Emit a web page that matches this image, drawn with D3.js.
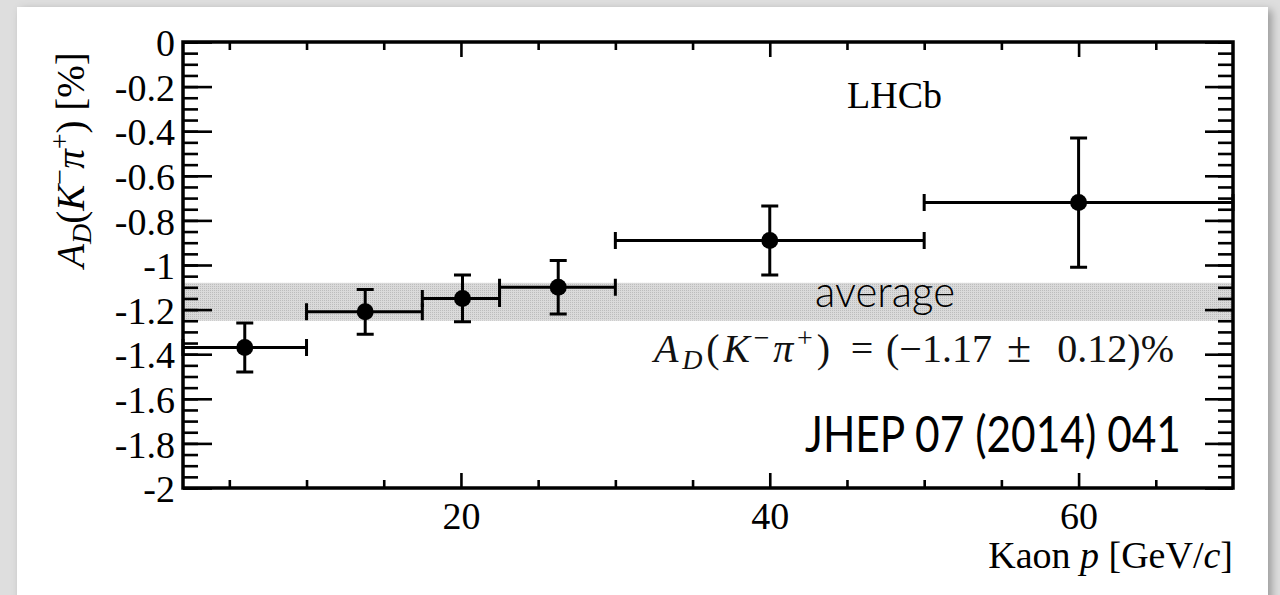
<!DOCTYPE html>
<html>
<head>
<meta charset="utf-8">
<script src="https://cdn.jsdelivr.net/npm/d3@7"></script>
<style>
  html, body { margin: 0; padding: 0; background: #dedede; }
  svg { display: block; }
  .tick line { stroke: #000; stroke-width: 2.6; }
  .tick text { font-family: "Liberation Serif", "Times New Roman", serif; font-size: 38px; fill: #000; }
</style>
</head>
<body>
<div id="chart"></div>
<script>
// kaon momentum bins [GeV/c]
const binLow = [2, 10, 17.5, 22.5, 30, 50]
const binHigh = [10, 17.5, 22.5, 30, 50, 70]
const pMean = [6, 13.8, 20.1, 26.3, 40, 60]
// raw asymmetry [%]
const asym = [-1.37, -1.21, -1.15, -1.10, -0.89, -0.72]
const asymErr = [0.11, 0.10, 0.105, 0.12, 0.155, 0.29]
// average band drawn on the plot
const avgBand = [-1.25, -1.08]

const yMajor = [0, -0.2, -0.4, -0.6, -0.8, -1, -1.2, -1.4, -1.6, -1.8, -2]
const yLabels = ['0', '-0.2', '-0.4', '-0.6', '-0.8', '-1', '-1.2', '-1.4', '-1.6', '-1.8', '-2']
const yMinor = d3.range(0, 41).map(i => -i * 0.05)
const xMajor = [20, 40, 60]
const xMinor = [5, 10, 15, 25, 30, 35, 45, 50, 55, 65]

const W = 1280, H = 595
const plot = { left: 183, top: 42, right: 1233, bottom: 488 }

const svg = d3.select('#chart').append('svg')
  .attr('width', W)
  .attr('height', H)

let defs = svg.append('defs')
let shadow = defs.append('filter').attr('id', 'shadow')
  .attr('x', '-5%').attr('y', '-5%').attr('width', '110%').attr('height', '110%')
shadow.append('feDropShadow')
  .attr('dx', 4).attr('dy', 3).attr('stdDeviation', 4)
  .attr('flood-color', '#000').attr('flood-opacity', 0.3)

let pat = defs.append('pattern').attr('id', 'dots')
  .attr('width', 2).attr('height', 2)
  .attr('patternUnits', 'userSpaceOnUse')
pat.append('rect').attr('width', 2).attr('height', 2).attr('fill', '#dadada')
pat.append('rect').attr('width', 1).attr('height', 1).attr('fill', '#bcbcbc')

// page + white panel
svg.append('rect').attr('width', W).attr('height', H).attr('fill', '#dedede')
svg.append('rect')
  .attr('x', 17).attr('y', 7)
  .attr('width', 1251).attr('height', 640)
  .attr('fill', '#fff')
  .attr('filter', 'url(#shadow)')

const x = d3.scaleLinear().domain([2, 70]).range([plot.left, plot.right])
const y = d3.scaleLinear().domain([-2, 0]).range([plot.bottom, plot.top])

let g = svg.append('g')

// average band
g.append('rect')
  .attr('x', x(2))
  .attr('y', y(avgBand[1]))
  .attr('width', x(70) - x(2))
  .attr('height', y(avgBand[0]) - y(avgBand[1]))
  .attr('fill', 'url(#dots)')

// texts inside the frame
g.append('text')
  .attr('x', 942).attr('y', 108)
  .attr('text-anchor', 'end')
  .style('font-family', '"Liberation Serif", serif')
  .style('font-size', '38px')
  .text('LHCb')

g.append('text')
  .attr('x', 815).attr('y', 307)
  .attr('textLength', 140).attr('lengthAdjust', 'spacingAndGlyphs')
  .style('font-family', 'Lato, "Open Sans", sans-serif')
  .style('font-weight', 300)
  .style('font-size', '44px')
  .text('average')

g.append('text')
  .attr('x', 805).attr('y', 452)
  .attr('textLength', 376).attr('lengthAdjust', 'spacingAndGlyphs')
  .style('font-family', 'Lato, "Open Sans", sans-serif')
  .style('font-weight', 400)
  .style('font-size', '50px')
  .text('JHEP 07 (2014) 041')

function rich(sel, parts, size) {
  let shift = 0
  parts.forEach(p => {
    let target = p.shift || 0
    sel.append('tspan')
      .attr('dy', target - shift)
      .attr('font-size', p.size || size)
      .attr('font-style', p.it ? 'italic' : null)
      .text(p.t)
    shift = target
  })
}

// average value, pieces placed like the TeX layout
let serif = '"Liberation Serif", serif'
function mathText(px, anchor, txt) {
  return g.append('text')
    .attr('x', px).attr('y', 362)
    .attr('text-anchor', anchor)
    .style('font-family', serif).style('font-size', '40px').attr('fill', '#111')
    .text(txt)
}
let f1 = mathText(654, 'start', null)
  .attr('textLength', 176).attr('lengthAdjust', 'spacing')
rich(f1, [
  { t: 'A', it: true },
  { t: 'D', it: true, size: 28, shift: 7 },
  { t: '(' },
  { t: 'K', it: true },
  { t: '\u2212', size: 28, shift: -15 },
  { t: '\u03c0', it: true },
  { t: '+', size: 28, shift: -15 },
  { t: ')' }
], 40)
mathText(862, 'middle', '=')
mathText(886, 'start', '(\u22121.17')
mathText(1019, 'middle', '\u00b1').style('font-size', '44px')
mathText(1174, 'end', '0.12)%')

// error bars and points
let pts = pMean.map((p, i) => ({ p, lo: binLow[i], hi: binHigh[i], a: asym[i], e: asymErr[i] }))
let cap = 8.5

let bars = g.append('g')
  .attr('stroke', '#000')
  .attr('stroke-width', 3)
  .attr('fill', 'none')
  .selectAll('g')
  .data(pts)
  .enter().append('g')

bars.append('line')
  .attr('x1', d => x(d.lo)).attr('x2', d => x(d.hi))
  .attr('y1', d => y(d.a)).attr('y2', d => y(d.a))
bars.append('line')
  .attr('x1', d => x(d.p)).attr('x2', d => x(d.p))
  .attr('y1', d => y(d.a + d.e)).attr('y2', d => y(d.a - d.e))
bars.append('path')
  .attr('d', d => `M${x(d.lo)},${y(d.a) - cap}V${y(d.a) + cap}M${x(d.hi)},${y(d.a) - cap}V${y(d.a) + cap}`)
bars.append('path')
  .attr('d', d => `M${x(d.p) - cap},${y(d.a + d.e)}H${x(d.p) + cap}M${x(d.p) - cap},${y(d.a - d.e)}H${x(d.p) + cap}`)

g.append('g')
  .selectAll('circle')
  .data(pts)
  .enter().append('circle')
  .attr('cx', d => x(d.p))
  .attr('cy', d => y(d.a))
  .attr('r', 8.5)
  .attr('fill', '#000')

// axes, ticks pointing inward
function clean(a) { a.select('.domain').remove() }

g.append('g')
  .attr('transform', `translate(${plot.left},0)`)
  .call(d3.axisLeft(y).tickValues(yMinor).tickSizeInner(-15).tickSizeOuter(0).tickFormat(''))
  .call(clean)
g.append('g')
  .attr('transform', `translate(${plot.left},0)`)
  .call(d3.axisLeft(y).tickValues(yMajor).tickSizeInner(-29).tickSizeOuter(0).tickPadding(8)
    .tickFormat((d, i) => yLabels[i]))
  .call(clean)
  .selectAll('text').attr('dy', '0.36em')

g.append('g')
  .attr('transform', `translate(${plot.right},0)`)
  .call(d3.axisRight(y).tickValues(yMinor).tickSizeInner(-15).tickSizeOuter(0).tickFormat(''))
  .call(clean)
g.append('g')
  .attr('transform', `translate(${plot.right},0)`)
  .call(d3.axisRight(y).tickValues(yMajor).tickSizeInner(-28).tickSizeOuter(0).tickFormat(''))
  .call(clean)

g.append('g')
  .attr('transform', `translate(0,${plot.bottom})`)
  .call(d3.axisBottom(x).tickValues(xMinor).tickSizeInner(-8).tickSizeOuter(0).tickFormat(''))
  .call(clean)
g.append('g')
  .attr('transform', `translate(0,${plot.bottom})`)
  .call(d3.axisBottom(x).tickValues(xMajor).tickSizeInner(-15).tickSizeOuter(0).tickPadding(14))
  .call(clean)
  .selectAll('text').attr('dy', '0.71em')

g.append('g')
  .attr('transform', `translate(0,${plot.top})`)
  .call(d3.axisTop(x).tickValues(xMinor).tickSizeInner(-8).tickSizeOuter(0).tickFormat(''))
  .call(clean)
g.append('g')
  .attr('transform', `translate(0,${plot.top})`)
  .call(d3.axisTop(x).tickValues(xMajor).tickSizeInner(-15).tickSizeOuter(0).tickFormat(''))
  .call(clean)

// frame
g.append('rect')
  .attr('x', plot.left).attr('y', plot.top)
  .attr('width', plot.right - plot.left)
  .attr('height', plot.bottom - plot.top)
  .attr('fill', 'none')
  .attr('stroke', '#000')
  .attr('stroke-width', 3.5)

// axis titles
g.append('text')
  .attr('x', plot.right).attr('y', 568)
  .attr('text-anchor', 'end')
  .style('font-family', serif)
  .style('font-size', '38px')
  .call(t => rich(t, [
    { t: 'Kaon ' }, { t: 'p', it: true }, { t: ' [GeV/' }, { t: 'c', it: true }, { t: ']' }
  ], 38))

let ylab = g.append('text')
  .attr('transform', 'translate(84,160) rotate(-90)')
  .attr('text-anchor', 'middle')
  .style('font-family', serif)
  .style('font-size', '39px')
rich(ylab, [
  { t: 'A', it: true },
  { t: 'D', it: true, size: 28, shift: 7 },
  { t: '(' },
  { t: 'K', it: true },
  { t: '\u2212', size: 28, shift: -15 },
  { t: '\u03c0', it: true },
  { t: '+', size: 28, shift: -15 },
  { t: ') [%]' }
], 39)
</script>
</body>
</html>
